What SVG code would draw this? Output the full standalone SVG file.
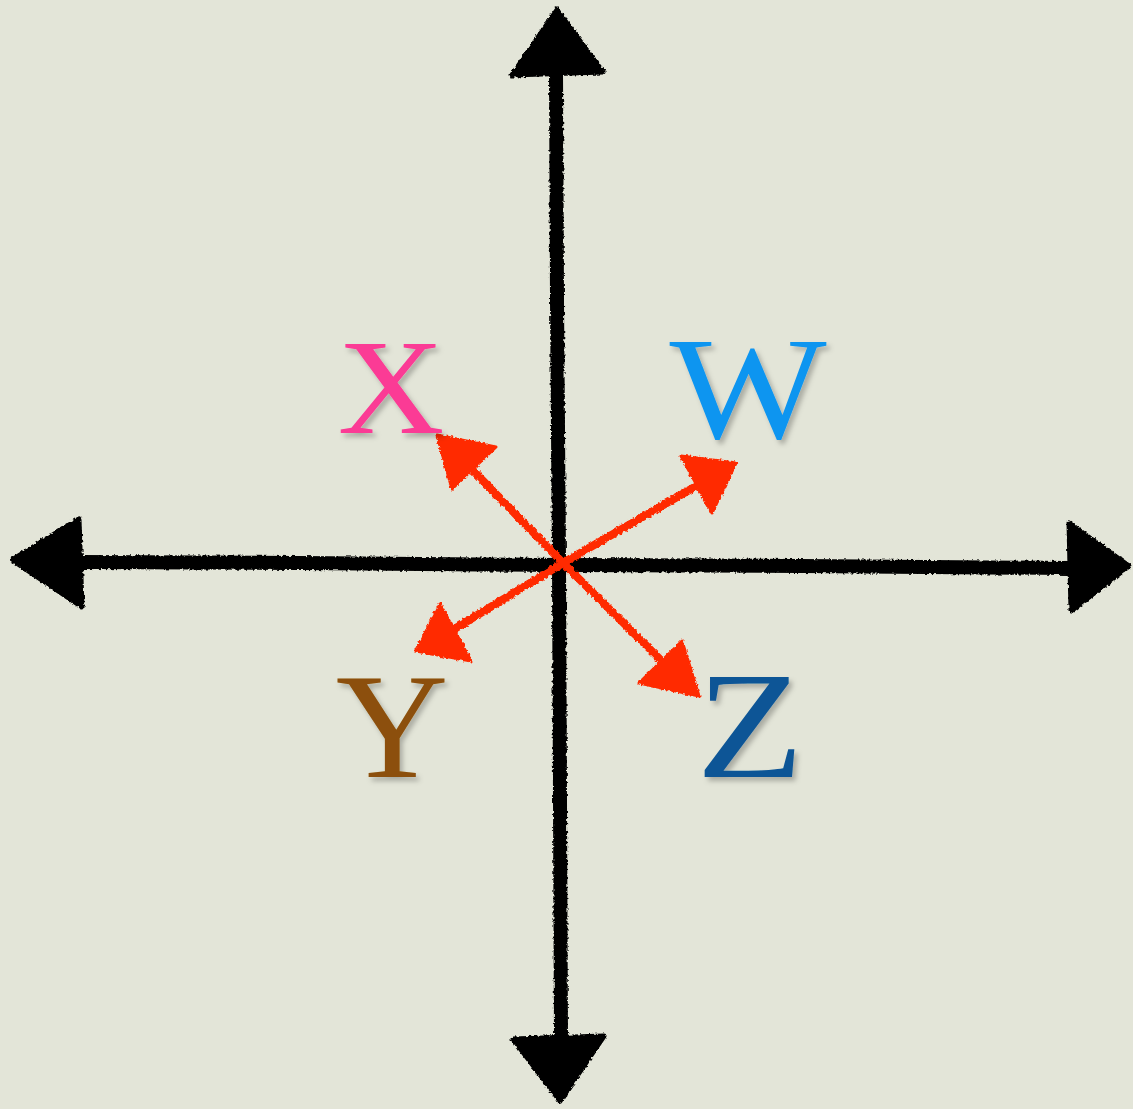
<svg xmlns="http://www.w3.org/2000/svg" width="1133" height="1109" viewBox="0 0 1133 1109">
<style>
.ax{fill:none;stroke:#000;stroke-width:14;stroke-linecap:round;stroke-linejoin:round}
.ah{fill:#000;stroke:#000;stroke-width:5;stroke-linejoin:round}
.rl{fill:none;stroke:#ff2a00;stroke-width:8;stroke-linecap:round}
.rh{fill:#ff2a00;stroke:#ff2a00;stroke-width:3;stroke-linejoin:round}
.lbl{font-family:"Liberation Serif","DejaVu Serif",serif;text-anchor:middle;filter:url(#sh)}
</style>
<defs>
<filter id="rough" x="-5%" y="-5%" width="110%" height="110%">
<feTurbulence type="fractalNoise" baseFrequency="0.35" numOctaves="2" seed="3" result="n"/>
<feDisplacementMap in="SourceGraphic" in2="n" scale="4" xChannelSelector="R" yChannelSelector="G"/>
</filter>
<filter id="sh" x="-20%" y="-20%" width="140%" height="140%">
<feDropShadow dx="3" dy="4" stdDeviation="2.5" flood-color="#000" flood-opacity="0.25"/>
</filter>
</defs>
<rect width="1133" height="1109" fill="#e3e5d8"/>
<g id="connectors">
<g id="axes" filter="url(#rough)">
<path class="ax" d="M556,70 L557,300 L559,560 L560,800 L561,1040"/>
<path class="ax" d="M80,562 L300,563 L560,565 L800,566 L1070,568"/>
<polygon class="ah" points="557,10 603,72 512,75"/>
<polygon class="ah" points="12,560 79,519 82,607"/>
<polygon class="ah" points="1129,566 1069,523 1071,611"/>
<polygon class="ah" points="560,1101 513,1039 604,1036"/>
</g>
<g id="red-arrows" filter="url(#rough)">
<path class="rl" d="M455,452 L563,563 L686,685"/>
<path class="rl" d="M428,645 L563,563 L724,470"/>
<polygon class="rh" points="437,435 496,447 452,489"/>
<polygon class="rh" points="699,696 639,683 682,641"/>
<polygon class="rh" points="736,463 681,456 712,513"/>
<polygon class="rh" points="416,651 440,604 471,661"/>
</g>
</g>
<g id="node-x" transform="translate(391,433) scale(1.09,1)"><text class="lbl" x="0" y="0" font-size="136" fill="#fb3a95">X</text></g>
<g id="node-w" transform="translate(748,438) scale(1.14,1)"><text class="lbl" x="0" y="0" font-size="146" fill="#1195f0">W</text></g>
<g id="node-y" transform="translate(392,777) scale(1.04,1)"><text class="lbl" x="0" y="0" font-size="150" fill="#8c5009">Y</text></g>
<g id="node-z" transform="translate(750,777) scale(1.16,1)"><text class="lbl" x="0" y="0" font-size="152" fill="#0b5596">Z</text></g>
</svg>
